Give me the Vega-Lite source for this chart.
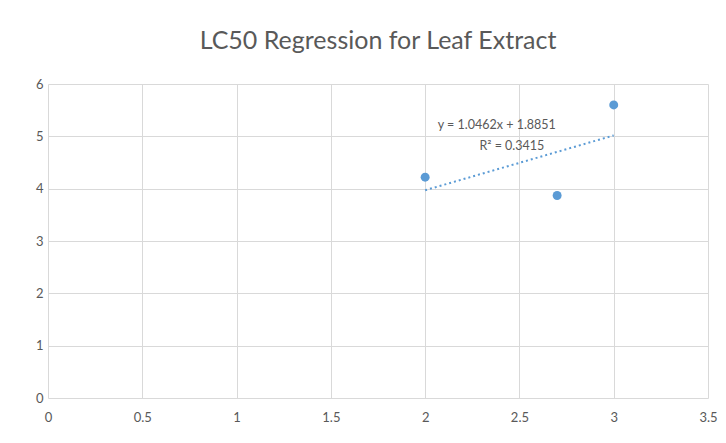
{
  "$schema": "https://vega.github.io/schema/vega-lite/v6.json",
  "autosize": "none",
  "width": 660,
  "height": 314,
  "padding": {"left": 48, "top": 84, "right": 18, "bottom": 45},
  "background": "white",
  "config": {
    "font": "Lato",
    "view": {"stroke": null},
    "axis": {
      "gridColor": "#d9d9d9",
      "gridWidth": 1,
      "domain": false,
      "ticks": false,
      "labelColor": "#595959",
      "labelFontSize": 13,
      "labelFont": "Lato",
      "labelOverlap": false,
      "labelFlush": false,
      "title": null
    }
  },
  "title": {
    "text": "LC50 Regression for Leaf Extract",
    "fontSize": 25,
    "font": "Lato",
    "fontWeight": "normal",
    "color": "#595959",
    "anchor": "middle",
    "offset": 24
  },
  "data": {
    "values": [
      {"x": 2.0, "y": 4.22},
      {"x": 2.7, "y": 3.87},
      {"x": 3.0, "y": 5.6}
    ]
  },
  "layer": [
    {
      "mark": {"type": "point", "filled": true, "size": 80, "color": "#5b9bd5", "opacity": 1},
      "encoding": {
        "x": {"field": "x", "type": "quantitative", "scale": {"domain": [0, 3.5], "nice": false}, "axis": {"values": [0, 0.5, 1, 1.5, 2, 2.5, 3, 3.5], "format": "~g", "labelPadding": 13}},
        "y": {"field": "y", "type": "quantitative", "scale": {"domain": [0, 6], "nice": false}, "axis": {"values": [0, 1, 2, 3, 4, 5, 6], "format": "~g", "labelPadding": 5}}
      }
    },
    {
      "transform": [{"regression": "y", "on": "x", "method": "linear"}],
      "mark": {"type": "line", "color": "#5b9bd5", "strokeWidth": 2, "strokeDash": [2, 3]},
      "encoding": {
        "x": {"field": "x", "type": "quantitative"},
        "y": {"field": "y", "type": "quantitative"}
      }
    },
    {
      "data": {
        "values": [
          {"x": 2.38, "y": 5.22, "label": "y = 1.0462x + 1.8851"},
          {"x": 2.46, "y": 4.82, "label": "R² = 0.3415"}
        ]
      },
      "mark": {"type": "text", "fontSize": 12.5, "color": "#595959", "align": "center", "baseline": "middle"},
      "encoding": {
        "x": {"field": "x", "type": "quantitative"},
        "y": {"field": "y", "type": "quantitative"},
        "text": {"field": "label"}
      }
    }
  ]
}
